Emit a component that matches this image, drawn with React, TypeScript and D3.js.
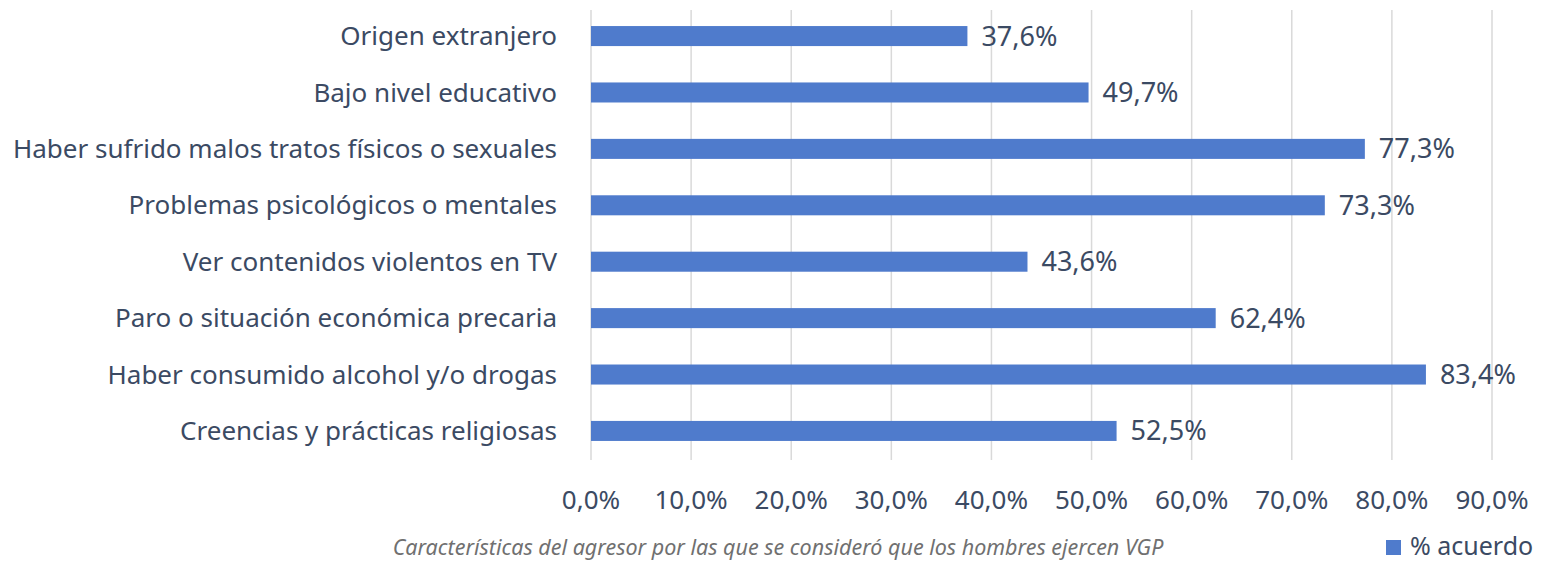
import React, { useEffect, useRef } from 'react';
import * as d3 from 'd3';

const categories = [
  'Origen extranjero',
  'Bajo nivel educativo',
  'Haber sufrido malos tratos físicos o sexuales',
  'Problemas psicológicos o mentales',
  'Ver contenidos violentos en TV',
  'Paro o situación económica precaria',
  'Haber consumido alcohol y/o drogas',
  'Creencias y prácticas religiosas',
];
const values = [37.6, 49.7, 77.3, 73.3, 43.6, 62.4, 83.4, 52.5];
const ticks = [0, 10, 20, 30, 40, 50, 60, 70, 80, 90];
const seriesName = '% acuerdo';
const caption = 'Características del agresor por las que se consideró que los hombres ejercen VGP';

const W = 1541;
const H = 562;
const FONT = "'Noto Sans', sans-serif";
const TEXT = '#3b4a63';
const BAR = '#4f7bcc';

const fmt = (v: number) => v.toFixed(1).replace('.', ',') + '%';

const App: React.FC = () => {
  const svgRef = useRef<SVGSVGElement>(null);

  useEffect(() => {
    if (!svgRef.current) return;
    const svg = d3.select(svgRef.current);
    svg.selectAll('*').remove();

    const x = d3.scaleLinear().domain([0, 90]).range([591, 1492]);
    const y = d3.scaleBand<string>()
      .domain(categories)
      .range([8, 459])
      .paddingInner(0.645)
      .paddingOuter(0.32);

    // gridlines
    svg.append('g')
      .selectAll('line')
      .data(ticks)
      .enter()
      .append('line')
      .attr('x1', d => x(d))
      .attr('x2', d => x(d))
      .attr('y1', 10)
      .attr('y2', 460)
      .attr('stroke', '#d9d9d9')
      .attr('stroke-width', 1.5);

    // bars
    svg.append('g')
      .selectAll('rect')
      .data(values)
      .enter()
      .append('rect')
      .attr('x', x(0))
      .attr('y', (d, i) => y(categories[i]) || 0)
      .attr('width', d => x(d) - x(0))
      .attr('height', y.bandwidth())
      .attr('fill', BAR);

    // value labels
    svg.append('g')
      .selectAll('text')
      .data(values)
      .enter()
      .append('text')
      .attr('x', d => x(d) + 14)
      .attr('y', (d, i) => (y(categories[i]) || 0) + y.bandwidth() / 2)
      .attr('dy', '0.35em')
      .attr('font-family', FONT)
      .attr('font-size', 27)
      .attr('fill', TEXT)
      .text(d => fmt(d));

    // category labels
    svg.append('g')
      .selectAll('text')
      .data(categories)
      .enter()
      .append('text')
      .attr('x', 557)
      .attr('y', d => (y(d) || 0) + y.bandwidth() / 2)
      .attr('dy', '0.35em')
      .attr('text-anchor', 'end')
      .attr('font-family', FONT)
      .attr('font-size', 26)
      .attr('fill', TEXT)
      .text(d => d);

    // x axis tick labels
    svg.append('g')
      .selectAll('text')
      .data(ticks)
      .enter()
      .append('text')
      .attr('x', d => x(d))
      .attr('y', 500)
      .attr('dy', '0.35em')
      .attr('text-anchor', 'middle')
      .attr('font-family', FONT)
      .attr('font-size', 26)
      .attr('fill', TEXT)
      .text(d => fmt(d));

    // caption
    svg.append('text')
      .attr('x', 778)
      .attr('y', 555)
      .attr('text-anchor', 'middle')
      .attr('font-family', FONT)
      .attr('font-style', 'italic')
      .attr('font-size', 21.5)
      .attr('fill', '#707070')
      .text(caption);

    // legend
    svg.append('rect')
      .attr('x', 1386)
      .attr('y', 540)
      .attr('width', 15)
      .attr('height', 15)
      .attr('fill', BAR);
    svg.append('text')
      .attr('x', 1410)
      .attr('y', 555)
      .attr('font-family', FONT)
      .attr('font-size', 25)
      .attr('fill', TEXT)
      .text(seriesName);
  }, []);

  return (
    <svg
      ref={svgRef}
      width={W}
      height={H}
      style={{ position: 'absolute', left: 0, top: 0, background: '#fff' }}
    />
  );
};

export default App;
